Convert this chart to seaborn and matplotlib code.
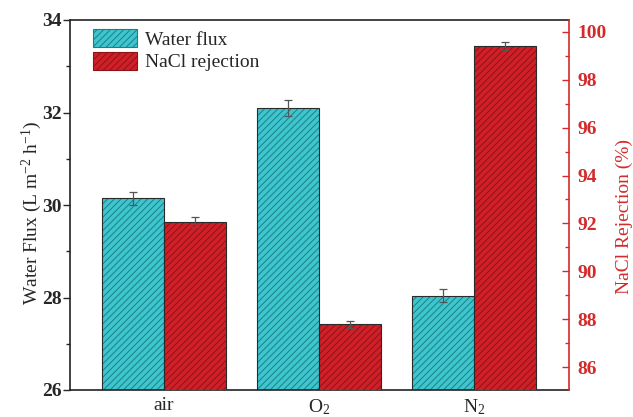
import numpy as np
import pandas as pd
import matplotlib
matplotlib.use("Agg")
import matplotlib.pyplot as plt
from matplotlib.patches import Patch, Rectangle
from matplotlib.ticker import MultipleLocator
import seaborn as sns

# ---- data ----
gases = ["air", "O$_2$", "N$_2$"]
flux = [30.15, 32.10, 28.04]
flux_err = [0.14, 0.17, 0.14]
rejection = [92.07, 87.78, 99.40]
rejection_err = [0.20, 0.15, 0.16]
series_names = ["Water flux", "NaCl rejection"]

sns.set_style("white")
plt.rcParams["font.family"] = ["Liberation Serif", "DejaVu Serif"]
plt.rcParams["mathtext.fontset"] = "custom"
plt.rcParams["mathtext.rm"] = "Liberation Serif"
plt.rcParams["mathtext.it"] = "Liberation Serif:italic"
plt.rcParams["hatch.linewidth"] = 0.7

cyan, cyan_h = "#3ec5ce", "#1d7f88"
red, red_h = "#d11f28", "#8e1319"
red_axis = "#d42a2a"

fig = plt.figure(figsize=(6.33, 4.17), dpi=100)
ax1 = fig.add_subplot(111)
fig.subplots_adjust(left=70/633, right=569/633, top=1-20/417, bottom=1-390/417)
ax2 = ax1.twinx()

idx = np.arange(len(gases))
df1 = pd.DataFrame({"pos": idx - 0.2, "val": flux})
df2 = pd.DataFrame({"pos": idx + 0.2, "val": rejection})

sns.barplot(data=df1, x="pos", y="val", native_scale=True, width=0.4,
            color=cyan, saturation=1, ax=ax1, errorbar=None)
sns.barplot(data=df2, x="pos", y="val", native_scale=True, width=0.4,
            color=red, saturation=1, ax=ax2, errorbar=None)

def style(ax, hc):
    for p in list(ax.patches):
        p.set_hatch("/////")
        p.set_edgecolor(hc)
        p.set_linewidth(0)
        ax.add_patch(Rectangle(p.get_xy(), p.get_width(), p.get_height(),
                               fill=False, edgecolor="#2a2a2a", linewidth=0.8, zorder=p.get_zorder()+0.1))
style(ax1, cyan_h)
style(ax2, red_h)

ax1.errorbar(idx - 0.2, flux, yerr=flux_err, fmt="none", ecolor="#555555",
             elinewidth=0.9, capsize=3, capthick=0.9, zorder=5)
ax2.errorbar(idx + 0.2, rejection, yerr=rejection_err, fmt="none", ecolor="#555555",
             elinewidth=0.9, capsize=3, capthick=0.9, zorder=5)

ax1.set_xlim(-0.605, 2.61)
ax1.set_ylim(26, 34)
ax2.set_ylim(85.04, 100.5)

ax1.set_xticks(idx)
ax1.set_xticklabels(gases, fontsize=14)
ax1.tick_params(axis="x", length=0, pad=5)
ax1.set_xlabel("")
ax2.set_xlabel("")

ax1.yaxis.set_major_locator(MultipleLocator(2))
ax1.yaxis.set_minor_locator(MultipleLocator(1))
ax1.tick_params(axis="y", which="major", direction="out", length=5, width=1, pad=1,
                labelsize=14, left=True)
ax1.tick_params(axis="y", which="minor", direction="out", length=3, width=1, left=True)
for t in ax1.get_yticklabels():
    t.set_fontweight("bold")
ax1.set_ylabel("Water Flux (L m$^{-2}$ h$^{-1}$)", fontsize=14)
ax1.yaxis.set_label_coords(-0.052, 0.48)

ax2.yaxis.set_major_locator(MultipleLocator(2))
ax2.yaxis.set_minor_locator(MultipleLocator(1))
ax2.set_yticks(np.arange(86, 101, 2))
ax2.tick_params(axis="y", which="major", direction="in", length=5, width=1, pad=6,
                labelsize=14, colors=red_axis, right=True)
ax2.tick_params(axis="y", which="minor", direction="in", length=3, width=1,
                colors=red_axis, right=True)
for t in ax2.get_yticklabels():
    t.set_fontweight("bold")
ax2.set_ylabel("NaCl Rejection (%)", fontsize=14, color=red_axis)
ax2.yaxis.set_label_coords(1.094, 0.47)

for sp in ["top", "bottom", "left"]:
    ax1.spines[sp].set_color("#222222")
    ax1.spines[sp].set_linewidth(1.2)
ax1.spines["right"].set_visible(False)
ax2.spines["right"].set_color(red_axis)
ax2.spines["right"].set_linewidth(1.2)
for sp in ["top", "bottom", "left"]:
    ax2.spines[sp].set_visible(False)

handles = [Patch(facecolor=cyan, edgecolor=cyan_h, hatch="/////", linewidth=0.8),
           Patch(facecolor=red, edgecolor=red_h, hatch="/////", linewidth=0.8)]
ax2.legend(handles, series_names, loc="upper left", frameon=False, fontsize=14,
           handlelength=2.26, handleheight=1.08, handletextpad=0.45, labelspacing=0.15,
           borderaxespad=0.0, bbox_to_anchor=(0.030, 0.997))

fig.savefig("out.png", dpi=100)
